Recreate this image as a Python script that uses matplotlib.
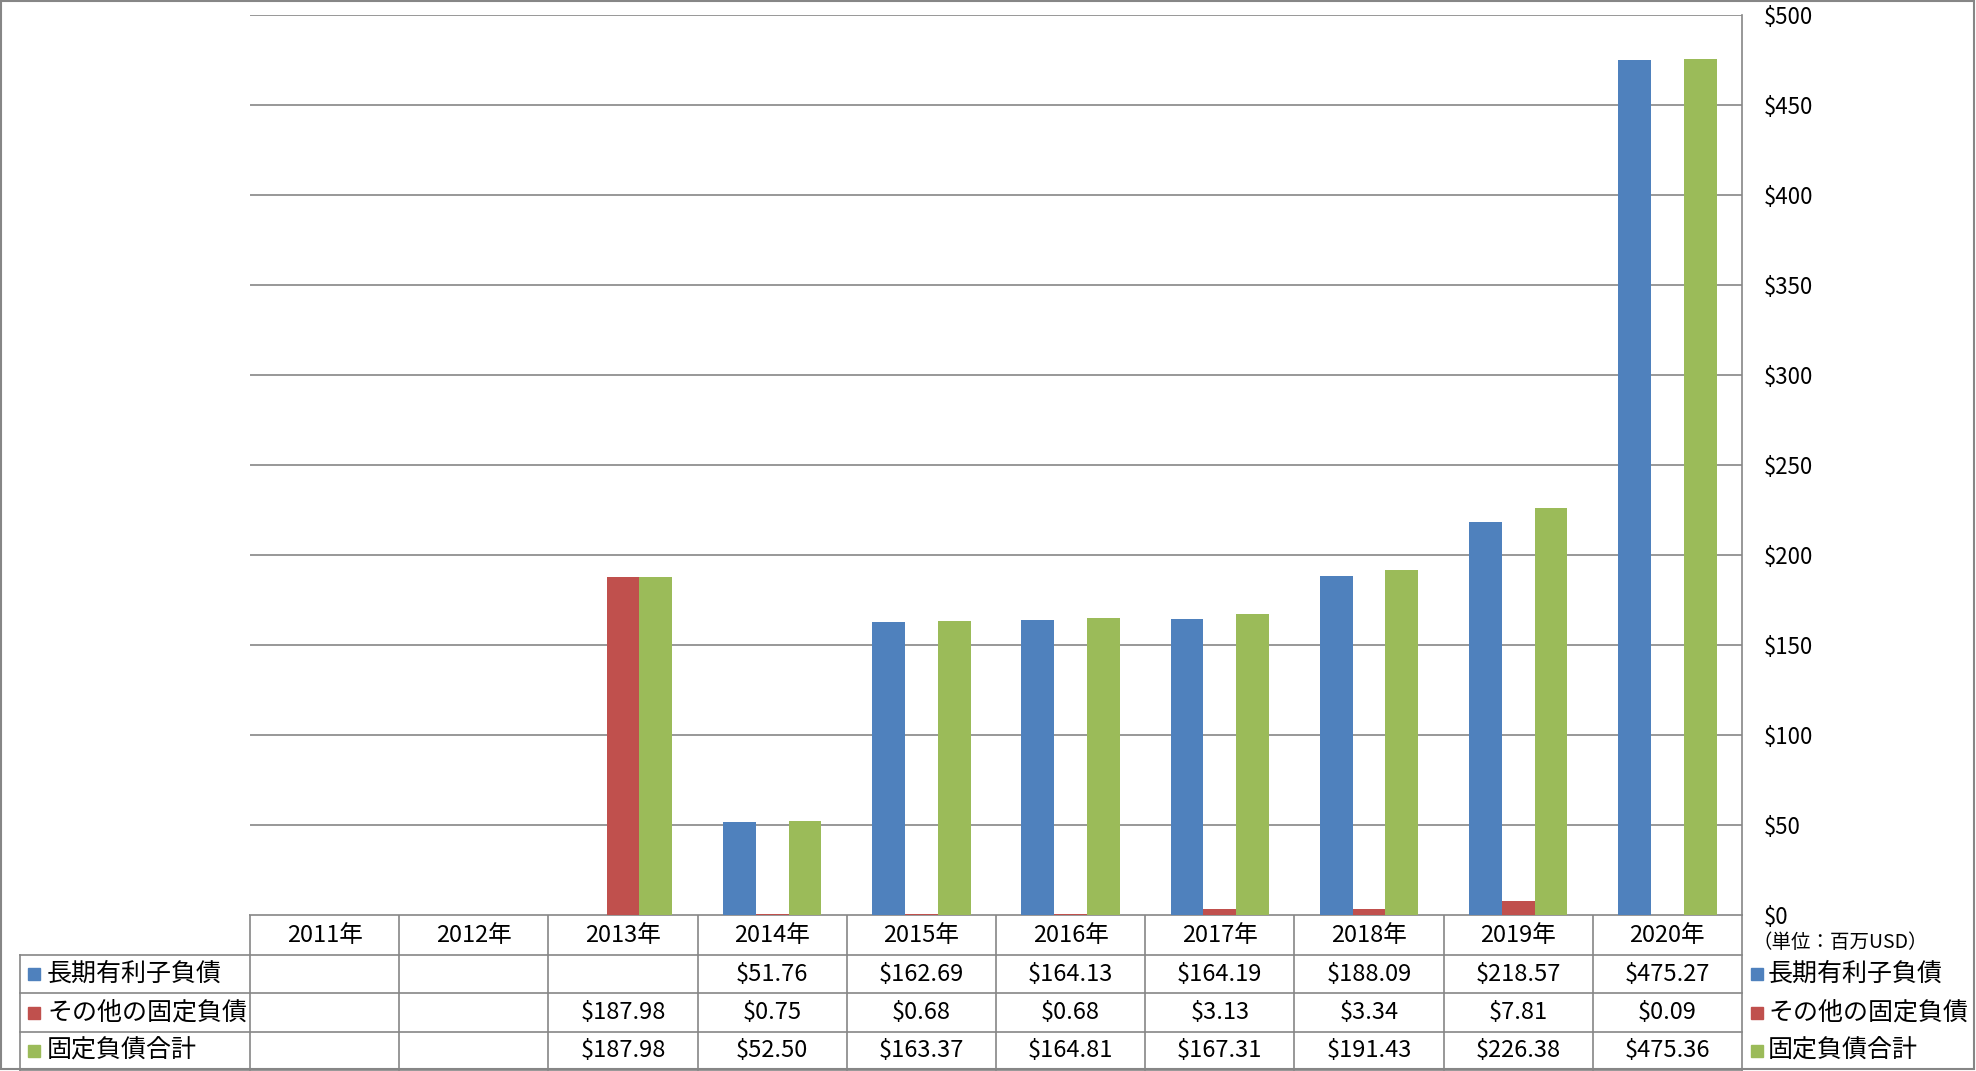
import numpy as np
import matplotlib
matplotlib.use("Agg")
import matplotlib.pyplot as plt
from matplotlib import transforms
from matplotlib.patches import Rectangle

plt.rcParams['font.family'] = ['Noto Sans CJK JP', 'DejaVu Sans']

# data
years = ["2011年", "2012年", "2013年", "2014年", "2015年",
         "2016年", "2017年", "2018年", "2019年", "2020年"]
series_names = ["長期有利子負債", "その他の固定負債", "固定負債合計"]
long_debt = [None, None, None, 51.76, 162.69, 164.13, 164.19, 188.09, 218.57, 475.27]
other_fixed = [None, None, 187.98, 0.75, 0.68, 0.68, 3.13, 3.34, 7.81, 0.09]
total_fixed = [None, None, 187.98, 52.50, 163.37, 164.81, 167.31, 191.43, 226.38, 475.36]
y_ticks = [0, 50, 100, 150, 200, 250, 300, 350, 400, 450, 500]
unit_label = "（単位：百万USD）"

colors = ["#4F81BD", "#C0504D", "#9BBB59"]
grid_col = "#868686"

W, H = 1976, 1071
fig = plt.figure(figsize=(W / 100, H / 100), dpi=100)

# plot area in pixels
left, right, top, base = 250, 1742, 15, 915
ax = fig.add_axes([left / W, (H - base) / H, (right - left) / W, (base - top) / H])

x = np.arange(len(years))
bw = 0.22
all_series = [long_debt, other_fixed, total_fixed]
for i, (vals, c) in enumerate(zip(all_series, colors)):
    v = np.array([np.nan if a is None else a for a in vals], dtype=float)
    ax.bar(x + (i - 1) * bw, v, width=bw, color=c, zorder=3)

ax.set_xlim(-0.5, len(years) - 0.5)
ax.set_ylim(0, 500)
ax.set_yticks(y_ticks)
ax.set_yticklabels(["$%d" % t for t in y_ticks], fontsize=16)
ax.yaxis.tick_right()
ax.tick_params(axis='y', length=0, pad=16)
ax.set_xticks([])
for t in ax.get_yticklabels():
    t.set_horizontalalignment('left')
ax.grid(axis='y', color=grid_col, lw=1.2, zorder=0)
for s in ["left", "top", "bottom"]:
    ax.spines[s].set_visible(False)
ax.spines["right"].set_color(grid_col)
ax.spines["right"].set_linewidth(1.2)

# table below the plot: x in data coords, y in figure pixels
def fy(py):
    return (H - py) / H

tr = transforms.blended_transform_factory(ax.transData, fig.transFigure)
row_edges = [915, 955, 993, 1032, 1070]
lw = 1.2
ax_fig = fig.add_axes([0, 0, 1, 1], zorder=-1)
ax_fig.set_axis_off()
ax_fig.set_xlim(0, W)
ax_fig.set_ylim(H, 0)
ax_fig.plot([left, right], [row_edges[0]] * 2, color=grid_col, lw=lw)
for r in row_edges[1:]:
    ax_fig.plot([20, right], [r, r], color=grid_col, lw=lw)
ax_fig.plot([20, 20], [row_edges[1], row_edges[-1]], color=grid_col, lw=lw)
for k in range(len(years) + 1):
    px = left + k * (right - left) / len(years)
    ax_fig.plot([px, px], [row_edges[0], row_edges[-1]], color=grid_col, lw=lw)
# figure border
ax_fig.add_patch(Rectangle((1, 1), W - 3, H - 3, fill=False, ec=grid_col, lw=1.5))

fs = 17
fs_lab = 18
for j, yr in enumerate(years):
    fig.text(j, fy((row_edges[0] + row_edges[1]) / 2), yr, transform=tr,
             ha='center', va='center', fontsize=fs)

for i, (vals, c, name) in enumerate(zip(all_series, colors, series_names)):
    yc = (row_edges[i + 1] + row_edges[i + 2]) / 2
    for j, v in enumerate(vals):
        if v is not None:
            fig.text(j, fy(yc), "$%.2f" % v, transform=tr,
                     ha='center', va='center', fontsize=fs)
    # row label with key
    ax_fig.add_patch(Rectangle((28, yc - 6), 12, 12, color=c))
    ax_fig.text(47, yc, name, ha='left', va='center', fontsize=fs_lab)
    # legend on the right
    ax_fig.add_patch(Rectangle((1751, yc - 6), 12, 12, color=c))
    ax_fig.text(1768, yc, name, ha='left', va='center', fontsize=fs_lab)

ax_fig.text(1752, 943, unit_label, ha='left', va='center', fontsize=14)

fig.savefig("out.png", dpi=100)
